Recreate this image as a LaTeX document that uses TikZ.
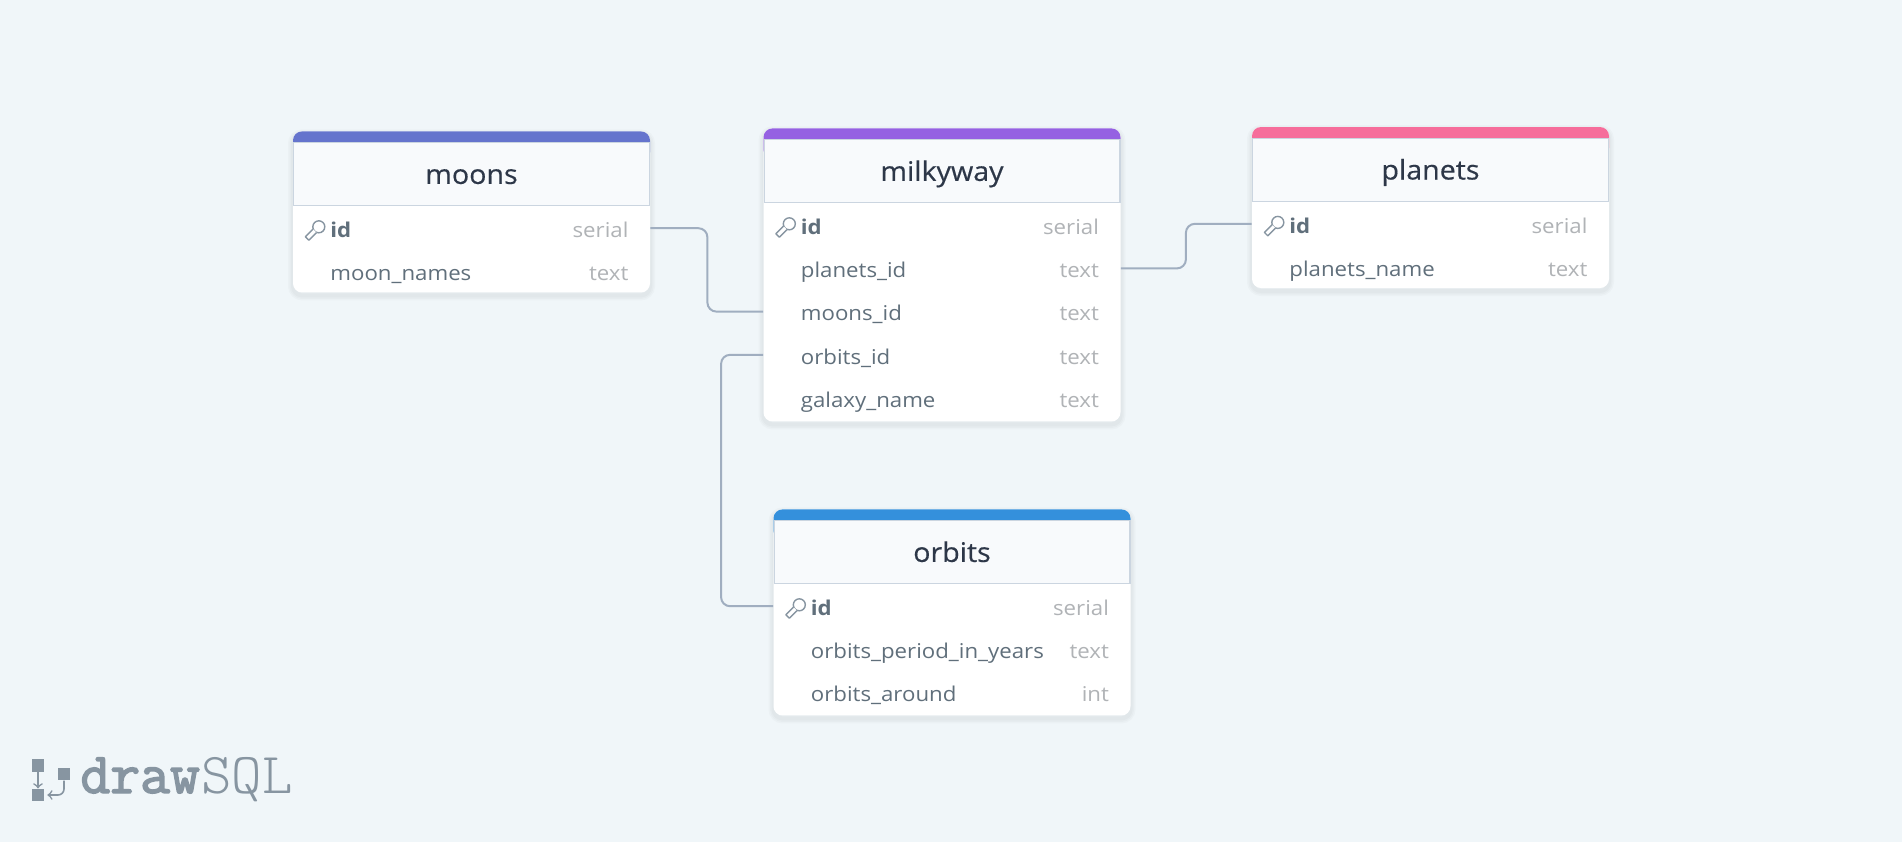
\documentclass[tikz,border=0pt]{standalone}
\usepackage{fontspec}
\setmainfont[FakeStretch=1.09]{Open Sans}
\newfontfamily\titlefont[FakeStretch=1.06,FakeBold=0.4]{Open Sans}
\newfontfamily\logodark[FakeBold=2.5]{Latin Modern Mono}
\newfontfamily\logolight{Latin Modern Mono Light}
\usepackage{xcolor}
\usepackage{tikz}
\usetikzlibrary{arrows,calc,positioning}
\usetikzlibrary{matrix}
\definecolor{pagebg}{HTML}{F0F6F9}
\definecolor{headbg}{HTML}{F8FAFC}
\definecolor{headline}{HTML}{CBD5E0}
\definecolor{titletext}{HTML}{2D3748}
\definecolor{fieldtext}{HTML}{606F7B}
\definecolor{typetext}{HTML}{B0B3B6}
\definecolor{relline}{HTML}{A0AEC0}
\definecolor{logogray}{HTML}{8795A1}
\definecolor{moonsbar}{HTML}{6574CD}
\definecolor{milkybar}{HTML}{9561E2}
\definecolor{planetsbar}{HTML}{F66D9B}
\definecolor{orbitsbar}{HTML}{3490DC}
\newcommand{\logosize}{\fontsize{29}{29}\selectfont}

\begin{document}
\begin{tikzpicture}[
    x=0.5pt, y=-0.5pt,
    softlayer/.style={preaction={draw=black, draw opacity=0.02, line width=#1, transform canvas={yshift=-1.5pt}}},
    tablebody/.style={rectangle, fill=white, rounded corners=4.5pt, minimum width=178.5pt, inner sep=0,
        softlayer=5pt, softlayer=3.5pt, softlayer=2pt},
    tablebar/.style={rectangle, fill=#1, rounded corners=4.5pt, minimum width=178.5pt, minimum height=15pt, anchor=north, inner sep=0},
    tablehead/.style={rectangle, draw=headline, fill=headbg, line width=0.6pt, minimum width=177.9pt, minimum height=31.5pt, inner sep=0,
        anchor=north, text=titletext, text height=10.9pt, text depth=1.1pt, font=\titlefont\fontsize{13.5}{15}\selectfont},
    fields/.style={
        matrix of nodes,
        row sep=0pt,
        column sep=0pt,
        inner sep=0,
        nodes={rectangle, inner sep=0, text height=15.4pt, text depth=6.2pt, font=\fontsize{10.2}{12}\selectfont},
    column 1/.style={nodes={align=left, text width=120pt, text=fieldtext}},
    column 2/.style={nodes={align=right, text width=29pt, text=typetext}}},
    relation/.style={draw=relline, line width=1pt, rounded corners=4.5pt},
    logobox/.style={rectangle, fill=logogray, minimum width=6pt, minimum height=6.2pt, inner sep=0},
    logoline/.style={draw=logogray, line width=0.8pt, >=to},
    logotext/.style={text=logogray, anchor=base west, inner sep=0},
    keyicon/.pic={
        \draw[draw=logogray, fill=white, line width=0.7pt] (4,-4) circle (6);
        \filldraw[draw=logogray, fill=white, line width=0.7pt, line join=round] (1.7,1.7) -- (-6,9.4) -- (-9.4,6) -- (-1.7,-1.7);
    }]

\useasboundingbox (0,0) rectangle (1902,842);
\fill[pagebg] (0,0) rectangle (1902,842);

% moons
\node[tablebody, minimum height=80.5pt, anchor=north] (moons) at (471.5,131) {};
\node[tablebar=moonsbar] (moonstop) at (moons.north) {};
\node[tablehead] (moonshead) at ([yshift=-5.5pt]moons.north) {moons};
\matrix (moonsfields) [fields, ampersand replacement=\&, below right=0pt and 18.5pt of moonshead.south west]{
 \textbf{id} \& serial \\
 moon\_names \& text \\
};
\pic at ([xshift=-7.6pt, yshift=-1.3pt]moonsfields-1-1.west) {keyicon};

% milkyway
\node[tablebody, minimum height=146.5pt, anchor=north] (milkyway) at (942,128) {};
\node[tablebar=milkybar] (milkywaytop) at (milkyway.north) {};
\node[tablehead] (milkywayhead) at ([yshift=-5.5pt]milkyway.north) {milkyway};
\matrix (milkywayfields) [fields, ampersand replacement=\&, below right=0pt and 18.5pt of milkywayhead.south west]{
 \textbf{id} \& serial \\
 planets\_id \& text \\
 moons\_id \& text \\
 orbits\_id \& text \\
 galaxy\_name \& text \\
};
\pic at ([xshift=-7.6pt, yshift=-1.3pt]milkywayfields-1-1.west) {keyicon};

% planets
\node[tablebody, minimum height=80.5pt, anchor=north] (planets) at (1430.5,126.6) {};
\node[tablebar=planetsbar] (planetstop) at (planets.north) {};
\node[tablehead] (planetshead) at ([yshift=-5.5pt]planets.north) {planets};
\matrix (planetsfields) [fields, ampersand replacement=\&, below right=0pt and 18.5pt of planetshead.south west]{
 \textbf{id} \& serial \\
 planets\_name \& text \\
};
\pic at ([xshift=-7.6pt, yshift=-1.3pt]planetsfields-1-1.west) {keyicon};

% orbits
\node[tablebody, minimum height=103pt, anchor=north] (orbits) at (952,509) {};
\node[tablebar=orbitsbar] (orbitstop) at (orbits.north) {};
\node[tablehead] (orbitshead) at ([yshift=-5.5pt]orbits.north) {orbits};
\matrix (orbitsfields) [fields, ampersand replacement=\&, below right=0pt and 18.5pt of orbitshead.south west]{
 \textbf{id} \& serial \\
 orbits\_period\_in\_years \& text \\
 orbits\_around \& int \\
};
\pic at ([xshift=-7.6pt, yshift=-1.3pt]orbitsfields-1-1.west) {keyicon};

% relations
\path[relation] (moons.east |- moonsfields-1-1) -- ++(57,0) |- (milkyway.west |- milkywayfields-3-1);
\path[relation] (milkyway.east |- milkywayfields-2-1) -- ++(65,0) |- (planets.west |- planetsfields-1-1);
\path[relation] (milkyway.west |- milkywayfields-4-1) -- ++(-42,0) |- (orbits.west |- orbitsfields-1-1);

% logo
\node[logobox] (logotop) at (38,765.5) {};
\node[logobox] (logobottom) at (38,795) {};
\node[logobox] (logoright) at (64,774) {};
\draw[logoline, ->] (logotop) -- (logobottom);
\draw[logoline, ->, rounded corners=3pt, shorten >=1.5pt] (logoright.south) |- (logobottom.east);
\node[logotext] (logodraw) at (80,793) {\logodark\logosize draw};
\node[logotext] (logosql) at (201,793) {\logolight\logosize SQL};

\end{tikzpicture}
\end{document}
